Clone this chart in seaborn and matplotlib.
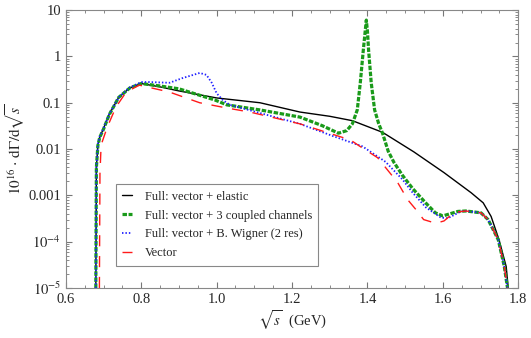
import numpy as np
import pandas as pd
import matplotlib
matplotlib.use("Agg")
import matplotlib.pyplot as plt
import matplotlib.ticker as mticker
import seaborn as sns

# sqrt(s) in GeV, 10^16 dGamma/dsqrt(s)
elastic_x = [0.6795, 0.681, 0.685, 0.69, 0.70, 0.715, 0.74, 0.77, 0.80, 0.85, 0.90, 1.00, 1.115, 1.221,
             1.30, 1.36, 1.44, 1.523, 1.603, 1.675, 1.707, 1.728, 1.749, 1.768, 1.777]
elastic_y = [1e-5, 0.004, 0.012, 0.018, 0.028, 0.056, 0.13, 0.21, 0.26, 0.22, 0.18, 0.127, 0.10, 0.063,
             0.051, 0.041, 0.023, 0.0087, 0.0031, 0.00114, 0.00069, 0.00035, 0.00011, 2.9e-5, 5e-6]

coupled_x = [0.6795, 0.681, 0.685, 0.69, 0.70, 0.715, 0.74, 0.77, 0.80, 0.85, 0.90, 0.995, 1.027, 1.115,
             1.221, 1.28, 1.323, 1.345, 1.36, 1.373, 1.381, 1.389, 1.394, 1.397, 1.400, 1.403, 1.41,
             1.419, 1.43, 1.44, 1.455, 1.47, 1.493, 1.52, 1.555, 1.58, 1.60, 1.64, 1.661, 1.701, 1.72,
             1.747, 1.763, 1.777]
coupled_y = [1e-5, 0.004, 0.012, 0.018, 0.027, 0.055, 0.13, 0.21, 0.26, 0.23, 0.20, 0.115, 0.09, 0.07,
             0.049, 0.032, 0.022, 0.025, 0.035, 0.07, 0.27, 1.37, 3.5, 6.1, 3.5, 1.37, 0.27,
             0.07, 0.035, 0.022, 0.009, 0.0052, 0.0027, 0.0014, 0.00068, 0.00042, 0.00036, 0.00045,
             0.00046, 0.00042, 0.0003, 0.00011, 2.9e-5, 5e-6]

bw_x = [0.6795, 0.681, 0.685, 0.69, 0.70, 0.715, 0.741, 0.768, 0.80, 0.821, 0.875, 0.909, 0.955, 0.973,
        0.987, 1.0, 1.016, 1.035, 1.115, 1.221, 1.309, 1.387, 1.448, 1.493, 1.52, 1.555, 1.595, 1.613,
        1.648, 1.661, 1.701, 1.72, 1.747, 1.763, 1.777]
bw_y = [1e-5, 0.004, 0.013, 0.019, 0.028, 0.057, 0.133, 0.21, 0.28, 0.28, 0.27, 0.34, 0.44, 0.40,
        0.27, 0.16, 0.115, 0.09, 0.06, 0.035, 0.019, 0.0114, 0.0053, 0.0022, 0.00114, 0.00055, 0.00033,
        0.00032, 0.00045, 0.00046, 0.00042, 0.0003, 0.00011, 2.9e-5, 5e-6]

vector_x = [0.689, 0.6905, 0.693, 0.696, 0.71, 0.733, 0.76, 0.795, 0.875, 0.955, 1.027, 1.088, 1.221,
            1.355, 1.381, 1.427, 1.48, 1.507, 1.528, 1.549, 1.581, 1.603, 1.63, 1.661, 1.701, 1.72,
            1.747, 1.763, 1.777]
vector_y = [1e-5, 0.003, 0.0094, 0.014, 0.03, 0.081, 0.17, 0.24, 0.17, 0.10, 0.077, 0.063, 0.035,
            0.0157, 0.0113, 0.0065, 0.0019, 0.0008, 0.0005, 0.0003, 0.00025, 0.00028, 0.00043, 0.00046,
            0.00042, 0.0003, 0.00011, 2.9e-5, 5e-6]

labels = ["Full: vector + elastic", "Full: vector + 3 coupled channels",
          "Full: vector + B. Wigner (2 res)", "Vector"]

sns.set_style("ticks")
plt.rcParams["font.family"] = ["Liberation Serif", "DejaVu Serif"]
plt.rcParams["mathtext.fontset"] = "stix"

fig = plt.figure(figsize=(5.31, 3.38), dpi=100)
ax = fig.add_axes([0.124, 0.148, 0.852, 0.822])

series = [
    (elastic_x, elastic_y, labels[0], "black", "-", 1.0),
    (coupled_x, coupled_y, labels[1], "#1a9a1a", (0, (1.4, 0.5)), 2.3),
    (bw_x, bw_y, labels[2], "#1f1fff", (0, (0.8, 1.1)), 1.3),
    (vector_x, vector_y, labels[3], "#ff1a1a", (0, (8, 7)), 1.0),
]
for xs, ys, lab, col, ls, lw in series:
    d = pd.DataFrame({"x": xs, "y": ys})
    sns.lineplot(data=d, x="x", y="y", ax=ax, color=col, linestyle=ls, linewidth=lw,
                 label=lab, sort=False, estimator=None)

ax.set_yscale("log")
ax.set_xlim(0.6, 1.8)
ax.set_ylim(1e-5, 10)
ax.xaxis.set_major_locator(mticker.MultipleLocator(0.2))
ax.xaxis.set_minor_locator(mticker.MultipleLocator(0.05))
ax.xaxis.set_major_formatter(mticker.FormatStrFormatter("%.1f"))
ylab = {10: "10", 1: "1", 0.1: "0.1", 0.01: "0.01", 0.001: "0.001",
        1e-4: r"$10^{-4}$", 1e-5: r"$10^{-5}$"}
ax.yaxis.set_major_locator(mticker.FixedLocator(list(ylab.keys())))
ax.yaxis.set_major_formatter(mticker.FuncFormatter(
    lambda v, p: next((t for k, t in ylab.items() if abs(np.log10(v) - np.log10(k)) < 1e-6), "")))
ax.yaxis.set_minor_locator(mticker.LogLocator(base=10, subs=np.arange(2, 10), numticks=20))
ax.yaxis.set_minor_formatter(mticker.NullFormatter())

ax.tick_params(which="both", direction="in", top=True, right=True, labelsize=10.5, color="#777777")
ax.tick_params(which="major", length=4)
ax.tick_params(which="minor", length=2)
for sp in ax.spines.values():
    sp.set_color("#888888")
    sp.set_linewidth(0.8)

ax.set_xlabel(r"$\sqrt{s}$  (GeV)", fontsize=10.5, labelpad=2)
ax.set_ylabel(r"$10^{16}\cdot\,\mathrm{d}\Gamma/\mathrm{d}\sqrt{s}$", fontsize=11, labelpad=1)

leg = ax.legend(loc="lower left", bbox_to_anchor=(0.097, 0.058), fontsize=9, handlelength=0.8,
                handletextpad=1.0, fancybox=False, framealpha=1, edgecolor="#888888",
                borderpad=0.5, labelspacing=0.55)
leg.get_frame().set_linewidth(0.8)

fig.savefig("out.png", dpi=100)
